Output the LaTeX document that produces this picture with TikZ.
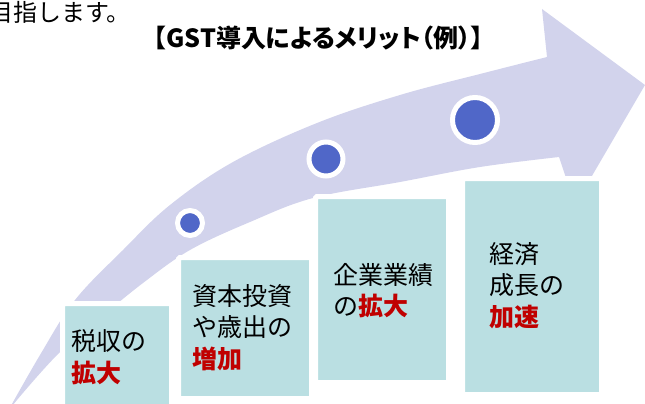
\documentclass[tikz,border=0pt]{standalone}
\usepackage{fontspec}
\setmainfont{Noto Sans CJK JP}
\newfontfamily\titlefont[RawFeature=+palt]{Noto Sans CJK JP}
\definecolor{arrowc}{RGB}{210,211,236}
\definecolor{dotc}{RGB}{80,103,200}
\definecolor{boxc}{RGB}{186,223,226}
\definecolor{dred}{RGB}{192,0,0}
\newcommand\redb[1]{{\bfseries\color{dred}#1}}
\tikzset{
  box/.style={fill=boxc, draw=white, line width=5pt, rounded corners=1.5pt, inner sep=0pt, outer sep=0pt},
  dot/.style={circle, fill=dotc, draw=white, line width=5pt, inner sep=0pt, outer sep=0pt},
  btext/.style={anchor=west, align=left, inner sep=0pt, text=black, font=\fontsize{25}{31.5}\selectfont}
}
\begin{document}
\begin{tikzpicture}[x=1pt,y=-1pt]
\useasboundingbox (0,0) rectangle (645,404);
\clip (0,0) rectangle (645,404);
% curved arrow
\fill[arrowc] plot[smooth, tension=0.6] coordinates {(3,420) (40,355) (75,300) (123,250) (170,205) (233,162) (317,123) (400,95) (480,74) (547,57)}
  -- (542,9) -- (645,85) -- (575,205) -- (559,157)
  -- plot[smooth, tension=0.6] coordinates {(559,157) (480,167) (400,182) (313,198) (250,222) (190,250) (143,283) (100,318) (60,352) (17,400) (3,420)} -- cycle;
% dots
\node[dot, minimum size=25pt] (c1) at (190,223) {};
\node[dot, minimum size=34pt] (c2) at (326,159) {};
\node[dot, minimum size=45pt] (c3) at (475,120) {};
% boxes
\node[box, minimum width=109pt, minimum height=114pt] (b1) at (117,360.5) {};
\node[box, minimum width=133pt, minimum height=141pt] (b2) at (245,328) {};
\node[box, minimum width=133pt, minimum height=186pt] (b3) at (382,289.5) {};
\node[box, minimum width=139pt, minimum height=216pt] (b4) at (532,286.5) {};
% texts
\node[btext] (t1) at (71,357) {税収の\\\redb{拡大}};
\node[btext] (t2) at (192,327.5) {資本投資\\や歳出の\\\redb{増加}};
\node[btext] (t3) at (333,290.5) {企業業績\\の\redb{拡大}};
\node[btext] (t4) at (489,285.5) {経済\\成長の\\\redb{加速}};
% title and top text
\node[inner sep=0pt, font=\titlefont\bfseries\fontsize{25}{30}\selectfont] (title) at (318.5,38.5) {【GST導入によるメリット（例）】};
\node[anchor=west, inner sep=0pt, font=\fontsize{24}{28}\selectfont] (top) at (-11,12.5) {目指します。};
\end{tikzpicture}
\end{document}
